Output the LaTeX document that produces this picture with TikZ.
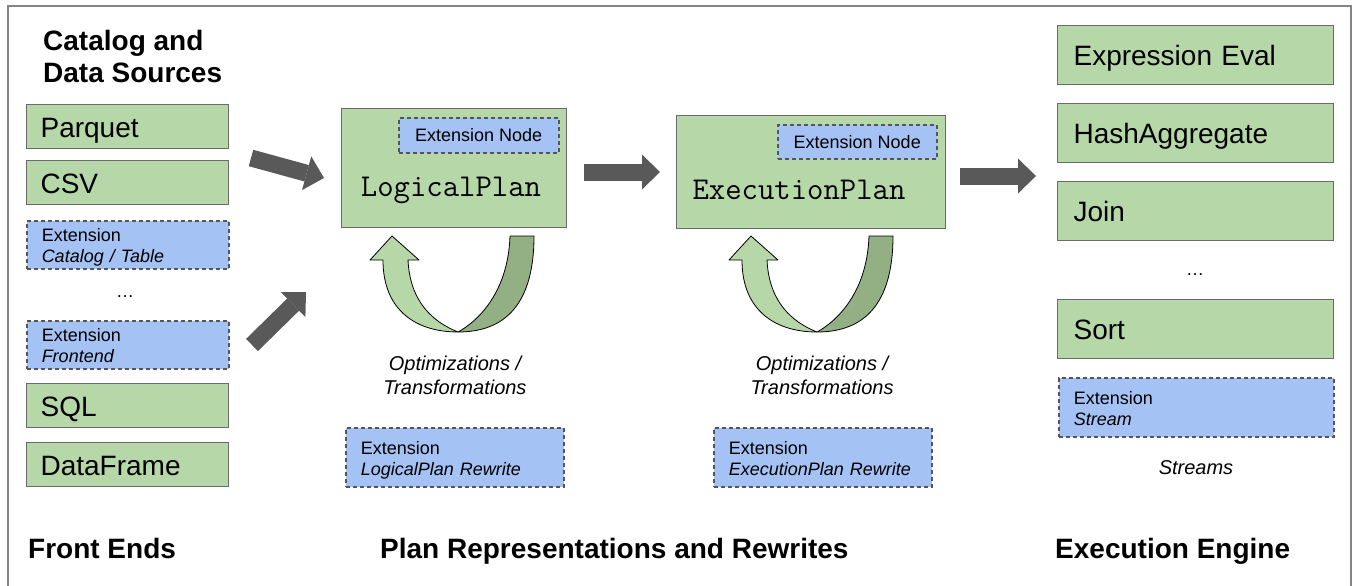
\documentclass[tikz,border=0pt]{standalone}
\usepackage{fontspec}
\setmainfont{Liberation Sans}
\usetikzlibrary{arrows.meta}

\definecolor{boxgreen}{HTML}{B6D7A8}
\definecolor{twistgreen}{HTML}{93AF84}
\definecolor{extblue}{HTML}{A4C2F4}
\definecolor{edgegray}{HTML}{6B6B6B}
\definecolor{dashgray}{HTML}{555555}
\definecolor{arrowgray}{HTML}{595959}
\definecolor{framegray}{HTML}{858585}

\newcommand\fsBox{\fontsize{28}{32}\selectfont}
\newcommand\fsPlan{\fontsize{31.8}{36}\selectfont}
\newcommand\fsExt{\fontsize{18}{21}\selectfont}
\newcommand\fsNote{\fontsize{20}{24}\selectfont}

\tikzset{
  box/.style={draw=edgegray, line width=1.2pt, anchor=north west, align=left, inner ysep=0pt},
  srcbox/.style={box, fill=boxgreen, minimum height=44pt, inner xsep=14pt, text width=174pt,
    text height=21pt, text depth=0pt, font=\fsBox},
  enginebox/.style={box, fill=boxgreen, minimum height=59pt, inner xsep=16pt, text width=244pt,
    text height=21pt, text depth=0pt, font=\fsBox},
  planbox/.style={box, fill=boxgreen},
  extbox/.style={box, draw=dashgray, fill=extblue, line width=1.5pt, dash pattern=on 4pt off 3pt,
    inner xsep=15pt, text height=13pt, text depth=19pt, font=\fsExt},
  extnode/.style={box, draw=dashgray, fill=extblue, line width=1.5pt, dash pattern=on 4pt off 3pt,
    align=center, text height=13pt, text depth=0pt, font=\fsExt},
  plantext/.style={anchor=base, inner sep=0pt, font=\fsPlan\ttfamily},
  heading/.style={inner sep=0pt, align=left, font=\fsBox\bfseries},
  note/.style={inner sep=0pt, align=center, font=\fsNote\itshape},
  dotsnote/.style={anchor=base, inner sep=0pt, font=\fsExt},
  fatarrow/.style={draw=arrowgray, line width=17pt,
    -{Triangle[length=18pt, width=35pt, line width=0pt]}},
  twistfront/.style={fill=boxgreen, draw=black, line width=0.8pt, line join=round},
  twistback/.style={fill=twistgreen, draw=black, line width=0.8pt, line join=round},
}

\begin{document}
\begin{tikzpicture}[x=1pt, y=-1pt]
  \useasboundingbox (0,0) rectangle (1353,586);
  \draw[framegray, line width=2pt] (8,586) -- (8,6) -- (1351,6) -- (1351,586);

  % front ends
  \node[heading, anchor=west] (catalog) at (43,56) {Catalog and\\Data Sources};
  \node[srcbox] (parquet) at (26,104) {Parquet};
  \node[srcbox] (csv) at (26,160) {CSV};
  \node[extbox, text width=172pt, minimum height=48pt] (exttable) at (26,220)
    {Extension\\\textit{Catalog / Table}};
  \node[dotsnote] (srcdots) at (125,297) {…};
  \node[extbox, text width=172pt, minimum height=48pt] (extfront) at (26,320)
    {Extension\\\textit{Frontend}};
  \node[srcbox] (sql) at (26,383) {SQL};
  \node[srcbox] (dataframe) at (26,442) {DataFrame};
  \node[heading, anchor=base west] (frontends) at (28,558) {Front Ends};

  % plans
  \node[planbox, minimum width=225pt, minimum height=119pt] (logical) at (341,108) {};
  \node[extnode, minimum width=160pt, minimum height=35pt] (logicalext) at (398,117) {Extension Node};
  \node[plantext] (logicaltext) at (451,196) {LogicalPlan};
  \node[planbox, minimum width=269pt, minimum height=113pt] (exec) at (676,115) {};
  \node[extnode, minimum width=159pt, minimum height=34pt] (execext) at (777,124) {Extension Node};
  \node[plantext] (exectext) at (799,199) {ExecutionPlan};

  \foreach \bx in {458,817} {
    \begin{scope}[shift={(\bx,332)}]
      \filldraw[twistfront] (-75,-72) .. controls (-75,-20) and (-40,0) .. (0,0)
        .. controls (-25,-10) and (-48,-30) .. (-50,-72) -- (-39,-72) -- (-66,-96)
        -- (-88,-72) -- cycle;
      \filldraw[twistback] (76,-96) .. controls (76,-20) and (40,0) .. (0,0)
        .. controls (15,-8) and (50,-35) .. (52,-96) -- cycle;
    \end{scope}
  }

  \node[note] (logicalnote) at (455,375) {Optimizations /\\Transformations};
  \node[note] (execnote) at (822,375) {Optimizations /\\Transformations};
  \node[extbox, text width=188pt, minimum height=59pt] (logicalrw) at (345,427)
    {Extension\\\textit{LogicalPlan Rewrite}};
  \node[extbox, text width=188pt, minimum height=59pt] (execrw) at (713,427)
    {Extension\\\textit{ExecutionPlan Rewrite}};
  \node[heading, anchor=base west] (plans) at (380,558) {Plan Representations and Rewrites};

  % execution engine
  \node[enginebox] (expreval) at (1057,25) {Expression Eval};
  \node[enginebox] (hashagg) at (1057,103) {HashAggregate};
  \node[enginebox] (join) at (1057,181) {Join};
  \node[dotsnote] (enginedots) at (1195,275) {…};
  \node[enginebox] (sort) at (1057,299) {Sort};
  \node[extbox, text width=245pt, minimum height=59pt] (extstream) at (1058,377)
    {Extension\\\textit{Stream}};
  \node[note] (streams) at (1196,468) {Streams};
  \node[heading, anchor=base west] (engine) at (1055,558) {Execution Engine};

  % flow
  \coordinate (srcout) at (251,158);
  \coordinate (logicalin) at (324,178);
  \coordinate (frontout) at (252,345);
  \coordinate (logicalin2) at (306,292);
  \coordinate (logicalout) at (584,172);
  \coordinate (execin) at (660,172);
  \coordinate (execout) at (960,176);
  \coordinate (enginein) at (1036,176);
  \draw[fatarrow] (srcout) -- (logicalin);
  \draw[fatarrow] (frontout) -- (logicalin2);
  \draw[fatarrow] (logicalout) -- (execin);
  \draw[fatarrow] (execout) -- (enginein);
\end{tikzpicture}
\end{document}
